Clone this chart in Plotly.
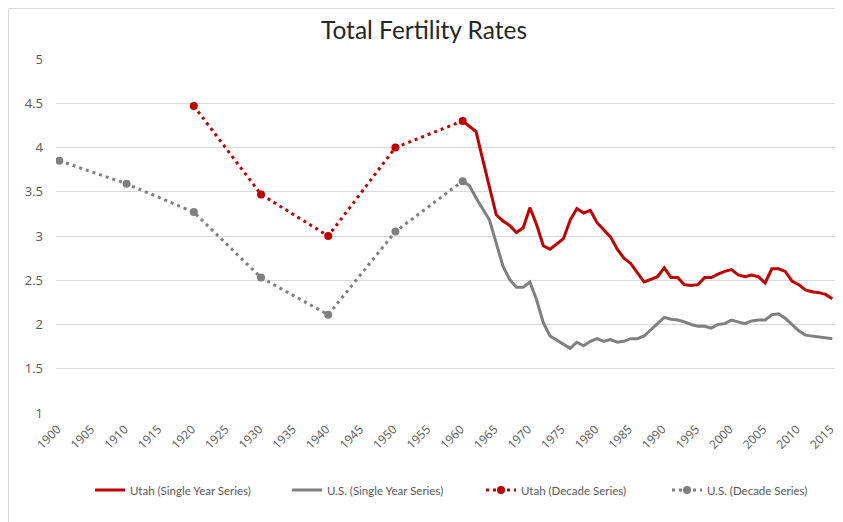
import plotly.graph_objects as go

# ---------------- data ----------------
decade_years = [1900, 1910, 1920, 1930, 1940, 1950, 1960]
us_decade = [3.85, 3.59, 3.27, 2.53, 2.11, 3.05, 3.62]
utah_decade_years = [1920, 1930, 1940, 1950, 1960]
utah_decade = [4.47, 3.47, 3.00, 4.00, 4.30]

single_years = list(range(1960, 2016))
utah_single = [
    4.30, 4.24, 4.18, 3.86, 3.55, 3.24, 3.17, 3.12, 3.04, 3.09,
    3.32, 3.13, 2.89, 2.85, 2.91, 2.97, 3.18, 3.31, 3.26, 3.29,
    3.15, 3.07, 2.99, 2.85, 2.75, 2.69, 2.58, 2.48, 2.51, 2.54,
    2.64, 2.53, 2.53, 2.45, 2.44, 2.45, 2.53, 2.53, 2.57, 2.60,
    2.62, 2.56, 2.54, 2.56, 2.54, 2.47, 2.63, 2.63, 2.60, 2.49,
    2.45, 2.39, 2.37, 2.36, 2.34, 2.29,
]
us_single = [
    3.62, 3.57, 3.43, 3.30, 3.18, 2.92, 2.66, 2.51, 2.42, 2.42,
    2.48, 2.28, 2.02, 1.87, 1.82, 1.77, 1.73, 1.80, 1.76, 1.81,
    1.84, 1.81, 1.83, 1.80, 1.81, 1.84, 1.84, 1.87, 1.94, 2.02,
    2.08, 2.06, 2.05, 2.03, 2.00, 1.98, 1.98, 1.96, 2.00, 2.01,
    2.05, 2.03, 2.01, 2.04, 2.05, 2.05, 2.11, 2.12, 2.07, 2.00,
    1.93, 1.88, 1.87, 1.86, 1.85, 1.84,
]

x_ticks = list(range(1900, 2016, 5))
y_ticks = [1, 1.5, 2, 2.5, 3, 3.5, 4, 4.5, 5]

RED = "#C00000"
GRAY = "#7F7F7F"

fig = go.Figure()
fig.add_trace(go.Scatter(
    x=single_years, y=utah_single, mode="lines",
    name="Utah (Single Year Series)",
    line=dict(color=RED, width=3), legendwidth=152,
))
fig.add_trace(go.Scatter(
    x=single_years, y=us_single, mode="lines",
    name="U.S. (Single Year Series)",
    line=dict(color=GRAY, width=3), legendwidth=149,
))
fig.add_trace(go.Scatter(
    x=utah_decade_years, y=utah_decade, mode="lines+markers",
    name="Utah (Decade Series)",
    line=dict(color=RED, width=3, dash="3px,4px"),
    marker=dict(color=RED, size=8), legendwidth=141,
))
fig.add_trace(go.Scatter(
    x=decade_years, y=us_decade, mode="lines+markers",
    name="U.S. (Decade Series)",
    line=dict(color=GRAY, width=3, dash="3px,4px"),
    marker=dict(color=GRAY, size=8), legendwidth=110,
))

# page offset (body margin) compensation
OFF = 8
W, H = 835, 514
L, T = 56 - OFF, 59 - OFF
PR, PB = 836 - OFF, 413 - OFF
R, B = W - PR, H - PB
pw, ph = PR - L, PB - T

def px_x(p):
    return (p - OFF - L) / pw

def px_y(p):
    return (PB - (p - OFF)) / ph

fig.update_layout(
    width=W, height=H,
    margin=dict(l=L, r=R, t=T, b=B),
    paper_bgcolor="white", plot_bgcolor="white",
    title=dict(
        text="Total Fertility Rates",
        x=(424 - OFF) / W, xanchor="center", xref="container",
        y=1 - (30 - OFF) / H, yanchor="middle", yref="container",
        font=dict(family="Lato", size=24.5, color="#262626"),
    ),
    xaxis=dict(
        range=[1899.5, 2015.55],
        tickmode="array", tickvals=x_ticks, ticktext=[str(v) for v in x_ticks],
        tickangle=-45, showgrid=False, zeroline=False, showline=False,
        ticks="", ticklabelstandoff=6, ticklabelshift=-2,
        tickfont=dict(family="Open Sans", size=12, color="#595959"),
    ),
    yaxis=dict(
        range=[1, 5],
        tickmode="array", tickvals=y_ticks, ticktext=[f"{v:g}" for v in y_ticks],
        showgrid=True, gridcolor="#D9D9D9", gridwidth=1,
        zeroline=False, showline=False, ticks="", ticklabelstandoff=12,
        tickfont=dict(family="Open Sans", size=13, color="#595959"),
    ),
    legend=dict(
        orientation="h", x=px_x(90), xanchor="left",
        y=px_y(490), yanchor="middle",
        font=dict(family="Lato", size=11.5, color="#595959"),
        bgcolor="rgba(0,0,0,0)",
    ),
    shapes=[
        dict(type="line", xref="paper", yref="paper",
             x0=px_x(8.5), x1=px_x(8.5), y0=px_y(8.5), y1=px_y(540),
             line=dict(color="#D9D9D9", width=1)),
        dict(type="line", xref="paper", yref="paper",
             x0=px_x(8.5), x1=px_x(860), y0=px_y(8.5), y1=px_y(8.5),
             line=dict(color="#D9D9D9", width=1)),
    ],
)

fig.write_html("out.html")
